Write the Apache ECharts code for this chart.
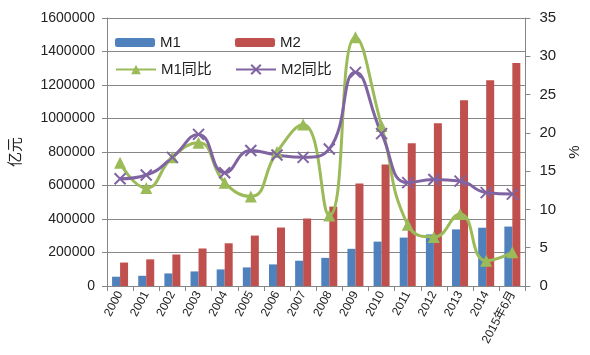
<!DOCTYPE html>
<html><head><meta charset="utf-8">
<script src="https://cdn.jsdelivr.net/npm/echarts@6/dist/echarts.min.js"></script>
<style>html,body{margin:0;padding:0;background:#fff}#c{width:590px;height:355px}</style>
</head><body><div id="c"></div>
<script>
const categories = ['2000','2001','2002','2003','2004','2005','2006','2007','2008','2009','2010','2011','2012','2013','2014','2015年6月'];
const m1 = [55500, 61000, 75000, 87000, 99000, 111000, 129000, 151000, 168000, 222000, 265000, 289000, 308000, 338000, 348000, 355000];
const m2 = [140000, 159000, 188000, 224000, 255000, 301000, 349000, 403000, 474000, 612000, 726000, 852000, 972000, 1109000, 1228000, 1332000];
const m1yoy = [16.1, 12.8, 16.8, 18.7, 13.5, 11.7, 17.5, 21.1, 9.2, 32.5, 20.9, 8.0, 6.4, 9.4, 3.3, 4.4];
const m2yoy = [14.0, 14.5, 16.8, 19.8, 14.8, 17.7, 17.1, 16.8, 17.9, 27.9, 19.9, 13.5, 13.9, 13.7, 12.2, 12.0];
const leftTicks = {min: 0, max: 1600000, interval: 200000};
const rightTicks = {min: 0, max: 35, interval: 5};

const FONT = 'Liberation Sans, Noto Sans CJK SC, sans-serif';
const AX = '#868686';
const C_M1 = '#4F81BD', C_M2 = '#C0504D', C_G = '#9BBB59', C_P = '#8064A2';
const chart = echarts.init(document.getElementById('c'), null, {renderer: 'canvas'});
const legendBase = {orient: 'horizontal', itemWidth: 40, itemHeight: 9, itemGap: 5,
  textStyle: {fontSize: 15, color: '#222', fontFamily: FONT}};
chart.setOption({
  animation: false,
  textStyle: {fontFamily: FONT},
  grid: {left: 100, right: 45, top: 18, bottom: 69},
  legend: [
    Object.assign({}, legendBase, {data: ['M1'], left: 110, top: 30}),
    Object.assign({}, legendBase, {data: ['M2'], left: 230, top: 30}),
    Object.assign({}, legendBase, {data: ['M1同比'], left: 110, top: 57, itemHeight: 12}),
    Object.assign({}, legendBase, {data: ['M2同比'], left: 230, top: 57, itemHeight: 12})
  ],
  xAxis: {
    type: 'category', data: categories, boundaryGap: true,
    axisLine: {lineStyle: {color: AX, width: 1}},
    axisTick: {show: true, alignWithLabel: false, length: 5, lineStyle: {color: AX}},
    axisLabel: {rotate: 62, fontSize: 12, color: '#222', margin: 6, interval: 0, fontFamily: FONT}
  },
  yAxis: [
    {type: 'value', min: leftTicks.min, max: leftTicks.max, interval: leftTicks.interval,
     name: '亿元', nameLocation: 'middle', nameGap: 84, nameRotate: 90,
     nameTextStyle: {fontSize: 15, color: '#222', fontFamily: FONT},
     axisLine: {show: true, lineStyle: {color: AX}},
     axisTick: {show: true, length: 5, lineStyle: {color: AX}},
     axisLabel: {fontSize: 14, color: '#222', margin: 12, formatter: v => String(v)},
     splitLine: {show: true, lineStyle: {color: AX, width: 1}}},
    {type: 'value', min: rightTicks.min, max: rightTicks.max, interval: rightTicks.interval,
     name: '%', nameLocation: 'middle', nameGap: 33, nameRotate: 90,
     nameTextStyle: {fontSize: 15, color: '#222', fontFamily: FONT},
     axisLine: {show: true, lineStyle: {color: AX}},
     axisTick: {show: true, length: 5, lineStyle: {color: AX}},
     axisLabel: {fontSize: 15, color: '#222', margin: 14},
     splitLine: {show: false}}
  ],
  series: [
    {name: 'M1', type: 'bar', data: m1, barWidth: 8, barGap: '0%', itemStyle: {color: C_M1}},
    {name: 'M2', type: 'bar', data: m2, barWidth: 8, barGap: '0%', itemStyle: {color: C_M2}},
    {name: 'M1同比', type: 'line', yAxisIndex: 1, data: m1yoy, smooth: 0.5,
     symbol: 'triangle', symbolSize: 12, lineStyle: {color: C_G, width: 3},
     itemStyle: {color: C_G}},
    {name: 'M2同比', type: 'line', yAxisIndex: 1, data: m2yoy, smooth: 0.5,
     symbol: 'path://M0,0L10,10M10,0L0,10', symbolSize: 11, lineStyle: {color: C_P, width: 3},
     itemStyle: {color: C_P, borderColor: C_P, borderWidth: 2}}
  ]
});
</script></body></html>
